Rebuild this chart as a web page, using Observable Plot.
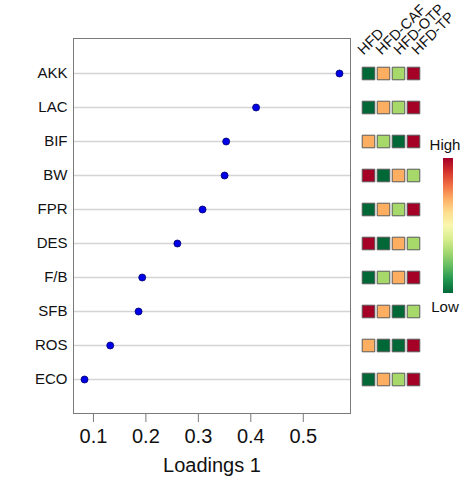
<!DOCTYPE html>
<html>
<head>
<meta charset="utf-8">
<script src="https://cdn.jsdelivr.net/npm/d3@7"></script>
<script src="https://cdn.jsdelivr.net/npm/@observablehq/plot@0.6"></script>
<style>
  body { margin: 0; background: #fff; font-family: "Liberation Sans", Arial, sans-serif; }
  #wrap { position: relative; width: 470px; height: 485px; }
  #wrap > * { position: absolute; }
</style>
</head>
<body>
<div id="wrap"></div>
<script>
// ---- data ----
const features = ["AKK", "LAC", "BIF", "BW", "FPR", "DES", "F/B", "SFB", "ROS", "ECO"];
const loadings = [0.569, 0.410, 0.353, 0.350, 0.308, 0.260, 0.193, 0.186, 0.132, 0.083];
const groups = ["HFD", "HFD-CAF", "HFD-OTP", "HFD-TP"];
// level per group (1 = low ... 4 = high)
const levels = [
  [1, 3, 2, 4],
  [1, 3, 2, 4],
  [3, 2, 1, 4],
  [4, 1, 3, 2],
  [1, 3, 2, 4],
  [4, 1, 3, 2],
  [1, 2, 3, 4],
  [4, 3, 1, 2],
  [3, 1, 1, 4],
  [1, 3, 2, 4]
];
const xTicks = [0.1, 0.2, 0.3, 0.4, 0.5];

const dots = features.map((f, i) => ({feature: f, value: loadings[i]}));
const cells = features.flatMap((f, i) => groups.map((g, j) => ({feature: f, group: g, level: levels[i][j]})));

const W = 470, H = 485, MT = 38, MB = 72;
const font = "Liberation Sans, Arial, sans-serif";
const wrap = document.getElementById("wrap");

// ---- main dot plot ----
const main = Plot.plot({
  width: W, height: H,
  marginLeft: 73, marginRight: 120, marginTop: MT, marginBottom: MB,
  style: {fontFamily: font, background: "transparent"},
  x: {domain: [0.062, 0.590]},
  y: {type: "point", domain: features, padding: 1},
  marks: [
    Plot.gridY({stroke: "#d4d4d4", strokeOpacity: 1, strokeWidth: 1.3}),
    Plot.frame({stroke: "#7a7a7a"}),
    Plot.axisY({tickSize: 0, tickPadding: 6, fontSize: 15, fill: "#111", label: null}),
    Plot.axisX({ticks: xTicks, tickSize: 9, tickPadding: 6, fontSize: 20, stroke: "#7a7a7a", fill: "#111",
      tickFormat: d3.format(".1f"), label: null}),
    Plot.text(["Loadings 1"], {frameAnchor: "bottom", dy: 58, fontSize: 20, fill: "#111"}),
    Plot.dot(dots, {x: "value", y: "feature", r: 3.5, fill: "#0000e6", stroke: "#00006e", strokeWidth: 0.8})
  ]
});
main.style.left = "0px"; main.style.top = "0px";
wrap.appendChild(main);

// ---- heat strip ----
const heat = Plot.plot({
  width: 120, height: H,
  marginLeft: 18, marginRight: 56.5, marginTop: MT, marginBottom: MB,
  style: {fontFamily: font, background: "transparent", overflow: "visible"},
  x: {type: "point", domain: groups, padding: 0, axis: null},
  y: {type: "point", domain: features, padding: 1, axis: null},
  color: {type: "ordinal", domain: [1, 2, 3, 4], range: ["#006837", "#a6d96a", "#fdae61", "#a50026"]},
  marks: [
    Plot.dot(cells, {x: "group", y: "feature", symbol: "square", r: 7.1, fill: "level", stroke: "#5a5a5a", strokeWidth: 1})
  ]
});
heat.style.left = "350px"; heat.style.top = "0px";
wrap.appendChild(heat);

// ---- column headers (rotated) ----
const head = Plot.plot({
  width: 120, height: 80,
  marginLeft: 12, marginRight: 52, marginTop: MT, marginBottom: 0,
  style: {fontFamily: font, background: "transparent", overflow: "visible"},
  x: {type: "point", domain: groups, padding: 0, axis: null},
  marks: [
    Plot.text(groups, {x: d => d, frameAnchor: "top", dy: 17, rotate: -45, textAnchor: "start",
      lineAnchor: "bottom", fontSize: 14.5, fill: "#111"})
  ]
});
head.style.left = "350px"; head.style.top = "0px";
wrap.appendChild(head);

// ---- colour legend ----
const stops = d3.range(0, 1.0001, 0.1).map(t => `${d3.interpolateRdYlGn(t)} ${Math.round(t * 100)}%`).join(",");
const bar = document.createElement("div");
Object.assign(bar.style, {left: "443px", top: "158px", width: "10px", height: "135px",
  background: `linear-gradient(to bottom, ${stops})`});
wrap.appendChild(bar);
const mk = (txt, top) => {
  const d = document.createElement("div");
  d.textContent = txt;
  Object.assign(d.style, {left: "415px", width: "60px", top: top + "px", textAlign: "center",
    fontSize: "15px", fontFamily: font, color: "#111", lineHeight: "16px"});
  wrap.appendChild(d);
};
mk("High", 137);
mk("Low", 299);
</script>
</body>
</html>
